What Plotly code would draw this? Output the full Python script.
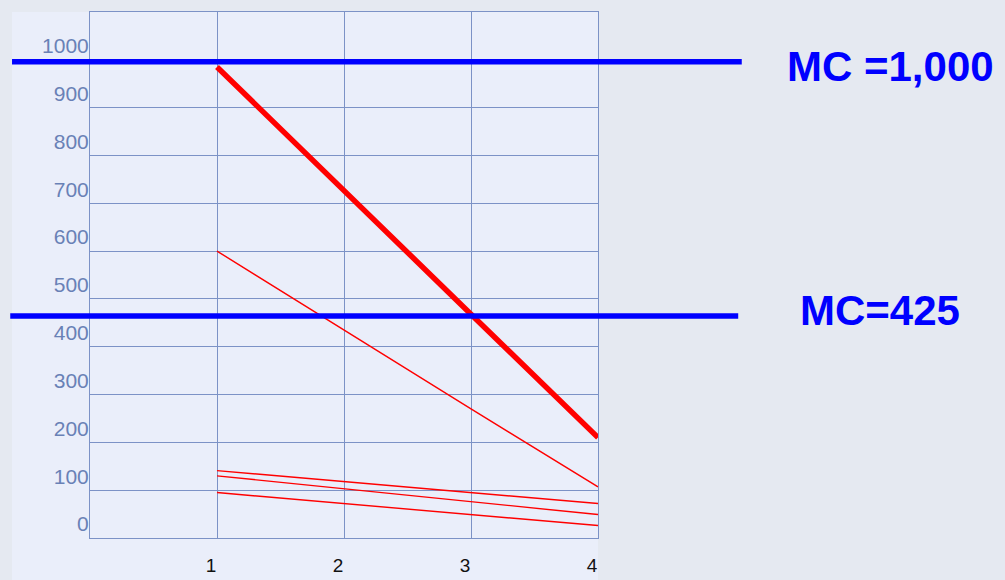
import plotly.graph_objects as go

# ---- data ----
x_cats = [1, 2, 3, 4]
thick_demand = [985, 725, 468, 210]
thin_demand = [600, 435, 270, 107]
low_a = [141, 118, 95, 72]
low_b = [130, 103, 76, 49]
low_c = [95, 72, 49, 26]
y_ticks = [0, 100, 200, 300, 400, 500, 600, 700, 800, 900, 1000]
y_tick_text = [str(v) for v in y_ticks]
x_tick_text = ["1", "2", "3", "4"]
mc_levels = [996, 464]
mc_labels = ["MC =1,000", "MC=425"]

RED = "#FF0000"
BLUE = "#0000FF"
GRID = "#7C92C6"
PANEL = "#EAEEFA"

fig = go.Figure()
for ys, w in [(thin_demand, 1.4), (low_a, 1.4), (low_b, 1.4), (low_c, 1.4), (thick_demand, 5.5)]:
    fig.add_trace(go.Scatter(x=x_cats, y=ys, mode="lines",
                             line=dict(color=RED, width=w), showlegend=False,
                             hoverinfo="skip"))

# light panel behind the chart (extends beyond the plot area)
fig.add_shape(type="rect", xref="paper", yref="paper",
              x0=-0.1535, x1=1.0, y0=-0.09, y1=1.0,
              fillcolor=PANEL, line=dict(width=0), layer="below")

# MC horizontal lines extending beyond plot
line_extents = [(-0.1535, 1.283), (-0.157, 1.276)]
for lvl, (x0, x1) in zip(mc_levels, line_extents):
    fig.add_shape(type="line", xref="paper", yref="y", x0=x0, x1=x1, y0=lvl, y1=lvl,
                  line=dict(color=BLUE, width=5.5), layer="above")

label_pos = [(890, 66), (880, 311)]
for txt, (px, py) in zip(mc_labels, label_pos):
    fig.add_annotation(text="<b>%s</b>" % txt, xref="paper", yref="paper",
                       x=(px - 90) / 508, y=(538 - py) / 526,
                       xanchor="center", yanchor="middle", showarrow=False,
                       font=dict(family="Liberation Sans, Arial", size=42, color=BLUE))

fig.update_layout(
    width=1005, height=580,
    margin=dict(l=90, r=407, t=12, b=42, autoexpand=False),
    paper_bgcolor="#E5E9F1",
    plot_bgcolor=PANEL,
    showlegend=False,
    xaxis=dict(range=[0, 4], tickvals=x_cats, ticktext=x_tick_text,
               showgrid=True, gridcolor=GRID, gridwidth=1,
               showline=True, linecolor=GRID, linewidth=1, mirror=True,
               zeroline=False, ticks="", automargin=False,
               ticklabelstandoff=10, ticklabelshift=-6,
               tickfont=dict(family="Liberation Sans, Arial", size=19, color="#111111")),
    yaxis=dict(range=[0, 1100], tickvals=y_ticks, ticktext=y_tick_text,
               showgrid=True, gridcolor=GRID, gridwidth=1,
               showline=True, linecolor=GRID, linewidth=1, mirror=True,
               zeroline=False, ticks="", automargin=False,
               ticklabelstandoff=-4, ticklabelshift=-14,
               tickfont=dict(family="Liberation Sans, Arial", size=21, color="#6981B6")),
)

fig.write_html("out.html")
